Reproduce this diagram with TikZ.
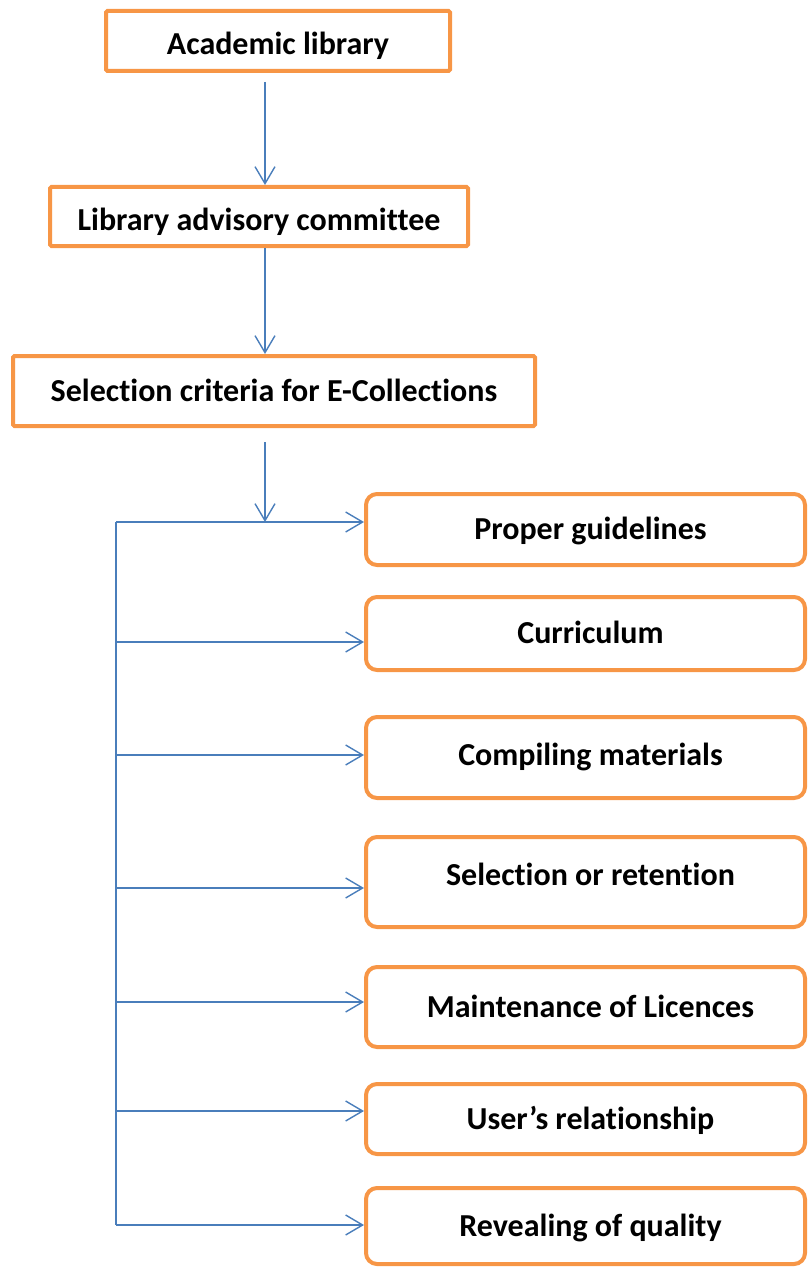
\documentclass[tikz,border=0pt]{standalone}
\usepackage{fontspec}
\setmainfont{Carlito}[Ligatures=NoCommon]
\usetikzlibrary{arrows.meta}
\definecolor{boxorange}{HTML}{F79646}
\definecolor{linkblue}{HTML}{4A7EBB}
\tikzset{
  boxtext/.style={font=\fontsize{32}{36}\selectfont\bfseries, text height=24pt, text depth=4pt},
  topbox/.style={draw=boxorange, line width=4pt, rounded corners=1.5pt, fill=white,
    inner sep=0pt, boxtext},
  itembox/.style={draw=boxorange, line width=4pt, rounded corners=11pt, fill=white,
    inner sep=0pt, minimum width=439pt, boxtext, execute at begin node=\hspace*{10pt}},
  link/.style={draw=linkblue, line width=1.4pt},
  linkarr/.style={link, -{Straight Barb[length=17pt,width=20pt,line width=1.4pt]}}
}
\begin{document}
\begin{tikzpicture}[x=1pt,y=1pt]
\useasboundingbox (0,0) rectangle (807,-1268);
% top chain
\node[topbox, minimum width=344pt, minimum height=60pt, text height=28pt, text depth=1pt] (acad) at (278,-41) {Academic library};
\node[topbox, minimum width=418pt, minimum height=59pt, text height=28pt, text depth=1pt] (adv) at (259,-216.5) {Library advisory committee};
\node[topbox, minimum width=522pt, minimum height=70pt] (sel) at (274,-391) {Selection criteria for E-Collections};
% right items
\node[itembox, minimum height=71pt] (pg) at (585.5,-529.5) {Proper guidelines};
\node[itembox, minimum height=73pt] (cu) at (585.5,-633.5) {Curriculum};
\node[itembox, minimum height=81pt, text height=22pt, text depth=6pt] (cm) at (585.5,-757.5) {Compiling materials};
\node[itembox, minimum height=90pt, text height=17pt, text depth=11pt] (sr) at (585.5,-882) {Selection or retention};
\node[itembox, minimum height=80pt] (ml) at (585.5,-1007) {Maintenance of Licences};
\node[itembox, minimum height=70pt] (ur) at (585.5,-1119) {User’s relationship};
\node[itembox, minimum height=76pt] (rq) at (585.5,-1226) {Revealing of quality};
% helper coordinates
\coordinate (spine) at (265,0);
\coordinate (trunk) at (116,0);
\coordinate (ya) at (0,-522);
\coordinate (yb) at (0,-642);
\coordinate (yc) at (0,-755);
\coordinate (yd) at (0,-888);
\coordinate (ye) at (0,-1002);
\coordinate (yf) at (0,-1111);
\coordinate (yg) at (0,-1225);
\coordinate (s1) at (265,-82);
\coordinate (s3) at (265,-442);
% vertical arrows
\draw[linkarr] (s1) -- (adv.north -| spine);
\draw[linkarr] (adv.south -| spine) -- (sel.north -| spine);
\draw[linkarr] (s3) -- (ya -| spine);
% trunk
\draw[link] (ya -| trunk) -- (yg -| trunk);
% branches
\draw[linkarr] (ya -| trunk) -- (ya -| pg.west);
\draw[linkarr] (yb -| trunk) -- (yb -| cu.west);
\draw[linkarr] (yc -| trunk) -- (yc -| cm.west);
\draw[linkarr] (yd -| trunk) -- (yd -| sr.west);
\draw[linkarr] (ye -| trunk) -- (ye -| ml.west);
\draw[linkarr] (yf -| trunk) -- (yf -| ur.west);
\draw[linkarr] (yg -| trunk) -- (yg -| rq.west);
\end{tikzpicture}
\end{document}
